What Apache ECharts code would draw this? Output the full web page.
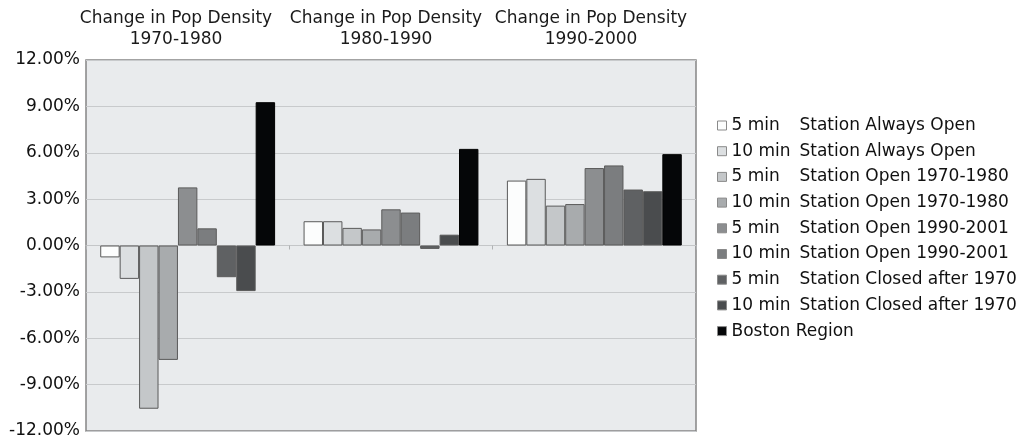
<!DOCTYPE html>
<html>
<head>
<meta charset="utf-8">
<script src="https://cdn.jsdelivr.net/npm/echarts@6/dist/echarts.min.js"></script>
<style>
html,body{margin:0;padding:0;background:#fff;}
#main{width:1017px;height:444px;}
</style>
</head>
<body>
<div id="main"></div>
<script>
// ---- data ----
var categories = ['Change in Pop Density\n1970-1980', 'Change in Pop Density\n1980-1990', 'Change in Pop Density\n1990-2000'];
var durations = ['5 min', '10 min', '5 min', '10 min', '5 min', '10 min', '5 min', '10 min', ''];
var stationTypes = ['Station Always Open', 'Station Always Open', 'Station Open 1970-1980', 'Station Open 1970-1980',
  'Station Open 1990-2001', 'Station Open 1990-2001', 'Station Closed after 1970', 'Station Closed after 1970', 'Boston Region'];
var s1 = [-0.77, 1.57, 4.20];
var s2 = [-2.16, 1.57, 4.31];
var s3 = [-10.56, 1.14, 2.58];
var s4 = [-7.40, 1.04, 2.68];
var s5 = [3.76, 2.34, 5.01];
var s6 = [1.11, 2.13, 5.18];
var s7 = [-2.05, -0.22, 3.62];
var s8 = [-2.95, 0.70, 3.51];
var s9 = [9.27, 6.25, 5.91];
var yTicks = [-12, -9, -6, -3, 0, 3, 6, 9, 12];

// ---- styling ----
var values = [s1, s2, s3, s4, s5, s6, s7, s8, s9];
var colors = ['#fcfdfd', '#dcdfe1', '#c4c7c9', '#a8abad', '#8c8e90', '#7b7d7f', '#5f6163', '#4a4c4e', '#050608'];
var titleX = [176, 386, 591];
var FONT = '"DejaVu Sans", sans-serif';

var series = values.map(function (v, i) {
  var name = durations[i] ? durations[i] + '|' + stationTypes[i] : stationTypes[i];
  return {
    name: name,
    type: 'bar',
    data: v,
    barGap: '0%',
    barCategoryGap: '14%',
    itemStyle: { color: colors[i], borderColor: i === 8 ? '#000' : '#5a5a5a', borderWidth: 1 },
    emphasis: { disabled: true }
  };
});

var graphics = categories.map(function (c, i) {
  return {
    type: 'text',
    x: titleX[i],
    y: 8,
    style: { text: c, textAlign: 'center', font: '17px ' + FONT, lineHeight: 21, fill: '#1a1a1a' }
  };
});

var chart = echarts.init(document.getElementById('main'));
chart.setOption({
  animation: false,
  backgroundColor: '#ffffff',
  graphic: graphics,
  grid: {
    left: 86, right: 321, top: 60, bottom: 13,
    show: true, backgroundColor: '#e9ebed', borderColor: '#858585', borderWidth: 1.5
  },
  legend: {
    orient: 'vertical',
    left: 712,
    top: 112,
    icon: 'rect',
    itemWidth: 9,
    itemHeight: 9,
    itemGap: 8.7,
    selectedMode: false,
    itemStyle: { borderWidth: 1, borderColor: '#8a8a8a' },
    formatter: function (name) {
      var p = name.split('|');
      if (p.length === 2) return '{a|' + p[0] + '}{b|' + p[1] + '}';
      return '{b|' + p[0] + '}';
    },
    textStyle: {
      fontFamily: FONT, fontSize: 17, color: '#111',
      rich: {
        a: { width: 68, fontFamily: FONT, fontSize: 17, color: '#111', lineHeight: 18 },
        b: { fontFamily: FONT, fontSize: 17, color: '#111', lineHeight: 18 }
      }
    }
  },
  xAxis: {
    type: 'category',
    data: categories,
    axisLabel: { show: false },
    axisLine: { show: true, onZero: true, lineStyle: { color: '#c4c6c8', width: 1 } },
    axisTick: { show: true, length: 4, lineStyle: { color: '#b0b2b4' } }
  },
  yAxis: {
    type: 'value',
    min: yTicks[0],
    max: yTicks[yTicks.length - 1],
    interval: yTicks[1] - yTicks[0],
    axisLine: { show: false },
    axisTick: { show: false },
    axisLabel: {
      margin: 6,
      fontFamily: FONT, fontSize: 17, color: '#111',
      formatter: function (v) { return v.toFixed(2) + '%'; }
    },
    splitLine: { lineStyle: { color: '#c8cacc', width: 1 } }
  },
  series: series
});
</script>
</body>
</html>
